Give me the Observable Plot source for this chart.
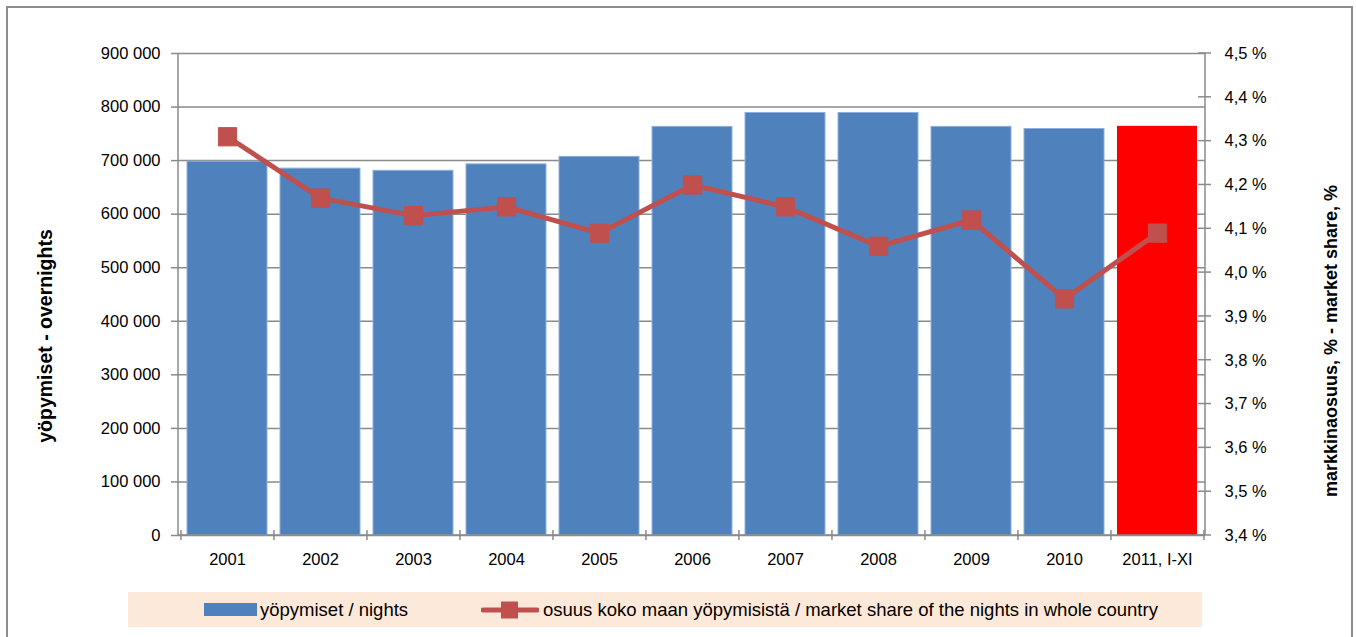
<!DOCTYPE html>
<html>
<head>
<meta charset="utf-8">
<script src="https://cdn.jsdelivr.net/npm/d3@7"></script>
<script src="https://cdn.jsdelivr.net/npm/@observablehq/plot@0.6"></script>
<style>
  body { margin: 0; background: #fff; font-family: "Liberation Sans", Arial, sans-serif; overflow: hidden; }
  #chart { position: relative; }
  #frame { position: absolute; left: 6px; top: 6px; width: 1347px; height: 640px; border: 2px solid #8c8c8c; box-sizing: border-box; pointer-events: none; }
  #legend { position: relative; margin-top: 2px; margin-left: 128px; width: 1074px; height: 35px; background: #fde9d9; font-size: 18.5px; color: #000; }
  #legend .item { position: absolute; top: 0; height: 35px; display: flex; align-items: center; }
  #legend .sw { display: inline-block; width: 53px; height: 13px; background: #4f81bd; margin-right: 3px; }
  .ytitle { position: absolute; font-weight: bold; white-space: nowrap; color: #000; transform: translate(-50%, -50%) rotate(-90deg); line-height: 1; }
</style>
</head>
<body>
<div id="chart"></div>
<div id="legend">
  <div class="item" style="left:76px;"><span class="sw"></span><span>yöpymiset / nights</span></div>
  <div class="item" style="left:353px;">
    <svg width="58" height="22" style="margin-right:4px;">
      <line x1="2" y1="11" x2="56" y2="11" stroke="#c0504d" stroke-width="5" stroke-linecap="round"></line>
      <rect x="20" y="2.5" width="17" height="17" fill="#c0504d"></rect>
    </svg>
    <span>osuus koko maan yöpymisistä / market share of the nights in whole country</span>
  </div>
</div>
<div id="leftTitle" class="ytitle" style="left:46px; top:336px; font-size:19.5px;"></div>
<div id="rightTitle" class="ytitle" style="left:1331px; top:341px; font-size:18px;"></div>
<div id="frame"></div>
<script>
const years = ["2001", "2002", "2003", "2004", "2005", "2006", "2007", "2008", "2009", "2010", "2011, I-XI"];
const nights = [698000, 685000, 681000, 693000, 707000, 763000, 789000, 789000, 763000, 759000, 764000];
const share = [4.31, 4.17, 4.13, 4.15, 4.09, 4.20, 4.15, 4.06, 4.12, 3.94, 4.09];
const nightTicks = [0, 100000, 200000, 300000, 400000, 500000, 600000, 700000, 800000, 900000];
const shareTicks = [3.4, 3.5, 3.6, 3.7, 3.8, 3.9, 4.0, 4.1, 4.2, 4.3, 4.4, 4.5];
const highlight = "2011, I-XI";
const leftTitle = "yöpymiset - overnights";
const rightTitle = "markkinaosuus, % - market share, %";

document.getElementById("leftTitle").textContent = leftTitle;
document.getElementById("rightTitle").textContent = rightTitle;

const sMin = 3.4, sMax = 4.5, nMax = 900000;
const toY = s => (s - sMin) / (sMax - sMin) * nMax;
const fromY = v => v / nMax * (sMax - sMin) + sMin;
const fmtN = v => d3.format(",")(v).replace(/,/g, " ");
const fmtS = v => (Math.round(v * 10) / 10).toFixed(1).replace(".", ",") + " %";

const data = years.map((y, i) => ({year: y, nights: nights[i], share: share[i], ys: toY(share[i])}));
const gray = "#8a8a8a";

function frameMarks(index, scales, values, dims) {
  const g = d3.create("svg:g");
  const x = scales.x, y = scales.y;
  const step = x(years[1]) - x(years[0]);
  const bw = (typeof x.bandwidth === "number") ? x.bandwidth : step * (1 - 0.13);
  const centers = years.map(c => x(c) + bw / 2);
  const left = dims.marginLeft, right = dims.width - dims.marginRight;
  const y0 = y(0), yTop = y(nMax);
  const line = (x1, y1, x2, y2) => g.append("line")
    .attr("x1", x1).attr("y1", y1).attr("x2", x2).attr("y2", y2)
    .attr("stroke", gray).attr("stroke-width", 1.5);
  line(left, yTop, left, y0);
  line(right, yTop, right, y0);
  line(left, y0, right, y0);
  const bounds = centers.map(c => c - step / 2).concat([centers[centers.length - 1] + step / 2]);
  bounds.forEach(b => line(b, y0 - 5, b, y0 + 5));
  shareTicks.forEach(s => line(right - 7, y(toY(s)), right + 6, y(toY(s))));
  return g.node();
}

const plot = Plot.plot({
  width: 1356,
  height: 590,
  marginLeft: 178,
  marginRight: 151,
  marginTop: 53,
  marginBottom: 55,
  style: {fontFamily: '"Liberation Sans", Arial, sans-serif', fontSize: "16.5px", color: "#000", background: "transparent"},
  x: {domain: years, paddingInner: 0.14, paddingOuter: 0.07, label: null},
  y: {domain: [0, nMax], label: null},
  marks: [
    Plot.gridY(nightTicks, {stroke: gray, strokeOpacity: 1, strokeWidth: 1.5}),
    Plot.barY(data, {filter: d => d.year !== highlight, x: "year", y: "nights", fill: "#4f81bd", stroke: "#8fb0da", strokeWidth: 1}),
    Plot.barY(data, {filter: d => d.year === highlight, x: "year", y: "nights", fill: "#ff0000"}),
    Plot.axisY(nightTicks, {anchor: "left", tickSize: 7, tickPadding: 11, tickFormat: fmtN, stroke: gray, strokeWidth: 1.5, label: null}),
    Plot.axisY(shareTicks.map(toY), {anchor: "right", tickSize: 0, tickPadding: 19, tickFormat: v => fmtS(fromY(v)), label: null}),
    Plot.axisX({tickSize: 0, tickPadding: 18, label: null}),
    frameMarks,
    Plot.line(data, {x: "year", y: "ys", stroke: "#c0504d", strokeWidth: 5}),
    Plot.dot(data, {x: "year", y: "ys", symbol: "square", r: 10.3, fill: "#c0504d", stroke: "#c0504d", strokeWidth: 1})
  ]
});
document.getElementById("chart").appendChild(plot);
</script>
</body>
</html>
